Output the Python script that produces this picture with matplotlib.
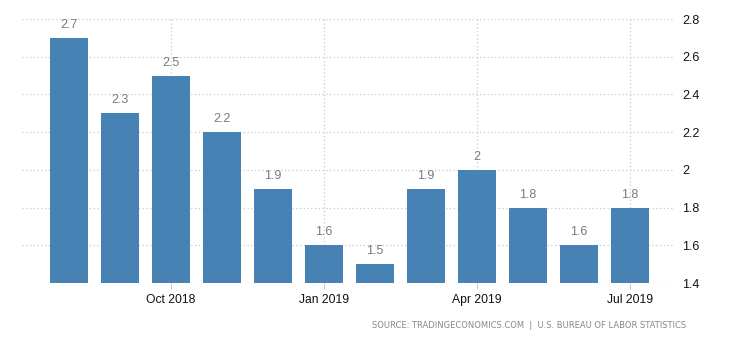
import matplotlib
matplotlib.use("Agg")
import matplotlib.pyplot as plt
import numpy as np

months = ["Aug 2018", "Sep 2018", "Oct 2018", "Nov 2018", "Dec 2018", "Jan 2019",
          "Feb 2019", "Mar 2019", "Apr 2019", "May 2019", "Jun 2019", "Jul 2019"]
values = [2.7, 2.3, 2.5, 2.2, 1.9, 1.6, 1.5, 1.9, 2.0, 1.8, 1.6, 1.8]
value_labels = ["2.7", "2.3", "2.5", "2.2", "1.9", "1.6", "1.5", "1.9", "2", "1.8", "1.6", "1.8"]
tick_months = ["Oct 2018", "Jan 2019", "Apr 2019", "Jul 2019"]
yticks = [1.4, 1.6, 1.8, 2.0, 2.2, 2.4, 2.6, 2.8]
ytick_labels = ["1.4", "1.6", "1.8", "2", "2.2", "2.4", "2.6", "2.8"]

plt.rcParams['font.family'] = ['Liberation Sans', 'DejaVu Sans']

fig = plt.figure(figsize=(7.3, 3.4), dpi=100)
ax = fig.add_axes([22/730, 57/340, (675-22)/730, (283-19)/340])

x = np.arange(len(months))
ax.bar(x, values, width=0.74, color="#4682B4", zorder=3)
for xi, v, lab in zip(x, values, value_labels):
    ax.annotate(lab, (xi, v), xytext=(0, 5), textcoords="offset points",
                ha="center", va="bottom", fontsize=9, color="#7a7a7a", zorder=4)

ax.set_ylim(1.4, 2.8)
ax.set_xlim(-0.92, len(months) - 1 + 0.88)
ax.yaxis.tick_right()
ax.set_yticks(yticks)
ax.set_yticklabels(ytick_labels)
tick_pos = [months.index(m) for m in tick_months]
ax.set_xticks(tick_pos)
ax.set_xticklabels(tick_months)

ax.tick_params(axis="y", length=0, pad=5, labelsize=9, labelcolor="#111111")
ax.tick_params(axis="x", length=4, color="#cccccc", pad=4, labelsize=8.7, labelcolor="#111111")

ax.grid(True, axis="both", linestyle=(0, (1, 2)), color="#c8c8c8", linewidth=0.9, zorder=0)
for s in ax.spines.values():
    s.set_visible(False)

fig.text(686/730, 1 - 325/340, "SOURCE: TRADINGECONOMICS.COM  |  U.S. BUREAU OF LABOR STATISTICS",
         ha="right", va="center", fontsize=6, color="#888888", family="DejaVu Sans")

fig.savefig("out.png", dpi=100)
